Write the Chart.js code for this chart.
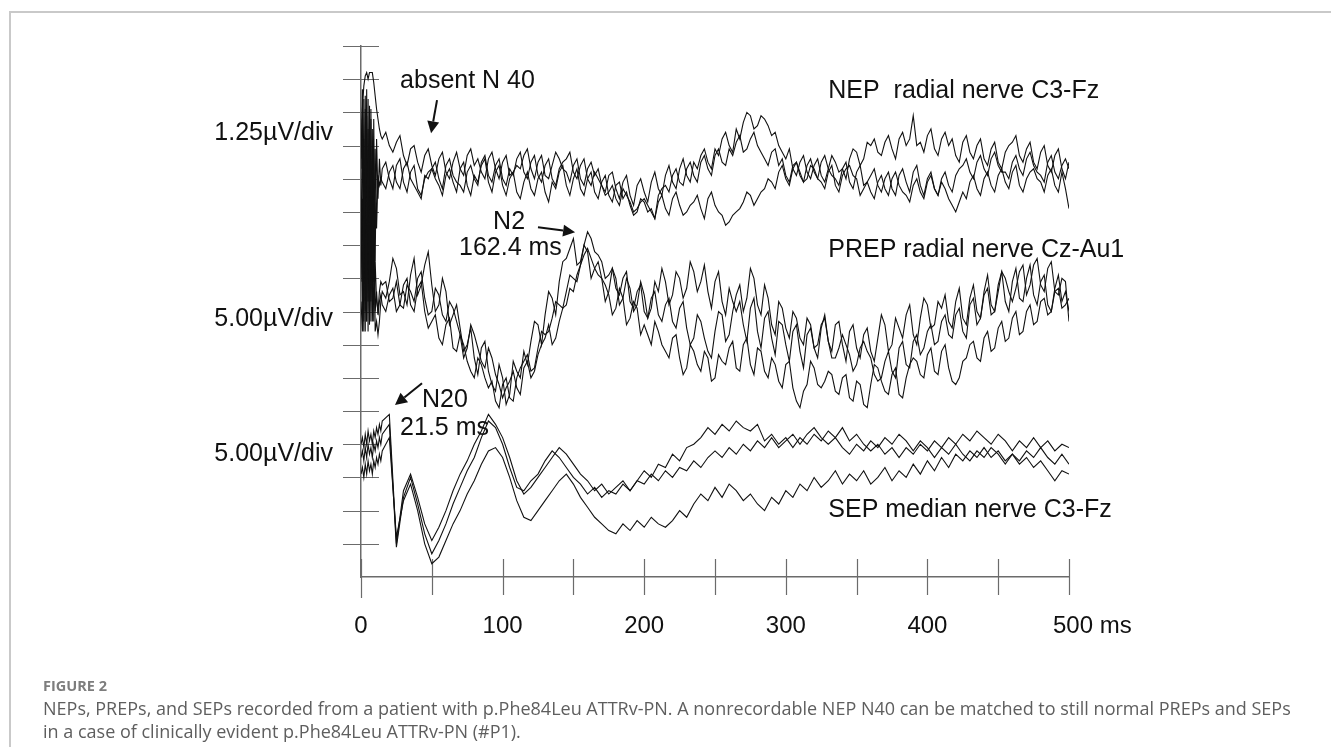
<!DOCTYPE html>
<html>
<head>
<meta charset="utf-8">
<script src="https://cdn.jsdelivr.net/npm/chart.js@4.4.1/dist/chart.umd.min.js"></script>
<style>
  html, body { margin: 0; padding: 0; background: #fff; overflow: hidden; }
  #wrap { position: relative; width: 1331px; height: 747px; }
  #frame { position: absolute; left: 9px; top: 11px; width: 1400px; height: 800px;
           border-left: 2px solid #c9c9c9; border-top: 2px solid #c9c9c9; }
  canvas { position: absolute; left: 0; top: 0; }
  .cap { position: absolute; left: 43px; font-family: "Open Sans", sans-serif; color: #5e5e5e; white-space: nowrap; }
  #figno { top: 676px; font-size: 14.5px; font-weight: 700; color: #7d7d7d; }
  #line1 { top: 696px; font-size: 18px; }
  #line2 { top: 719px; font-size: 18px; }
</style>
</head>
<body>
<div id="wrap">
  <div id="frame"></div>
  <canvas id="myChart" width="1331" height="747"></canvas>
  <div class="cap" id="figno">FIGURE 2</div>
  <div class="cap" id="line1">NEPs, PREPs, and SEPs recorded from a patient with p.Phe84Leu ATTRv-PN. A nonrecordable NEP N40 can be matched to still normal PREPs and SEPs</div>
  <div class="cap" id="line2">in a case of clinically evident p.Phe84Leu ATTRv-PN (#P1).</div>
</div>
<script>
// sample times (ms) for NEP and PREP: 1 ms over the stimulus artefact, then 2.5 ms
const timeFine = [0,1,2,3,4,5,6,7,8,9,10,11,12,13,14,15,
  17.5,20,22.5,25,27.5,30,32.5,35,37.5,40,42.5,45,47.5,50,52.5,55,57.5,60,62.5,65,
  67.5,70,72.5,75,77.5,80,82.5,85,87.5,90,92.5,95,97.5,100,102.5,105,107.5,110,112.5,115,
  117.5,120,122.5,125,127.5,130,132.5,135,137.5,140,142.5,145,147.5,150,152.5,155,157.5,160,162.5,165,
  167.5,170,172.5,175,177.5,180,182.5,185,187.5,190,192.5,195,197.5,200,202.5,205,207.5,210,212.5,215,
  217.5,220,222.5,225,227.5,230,232.5,235,237.5,240,242.5,245,247.5,250,252.5,255,257.5,260,262.5,265,
  267.5,270,272.5,275,277.5,280,282.5,285,287.5,290,292.5,295,297.5,300,302.5,305,307.5,310,312.5,315,
  317.5,320,322.5,325,327.5,330,332.5,335,337.5,340,342.5,345,347.5,350,352.5,355,357.5,360,362.5,365,
  367.5,370,372.5,375,377.5,380,382.5,385,387.5,390,392.5,395,397.5,400,402.5,405,407.5,410,412.5,415,
  417.5,420,422.5,425,427.5,430,432.5,435,437.5,440,442.5,445,447.5,450,452.5,455,457.5,460,462.5,465,
  467.5,470,472.5,475,477.5,480,482.5,485,487.5,490,492.5,495,497.5,500];

// sample times (ms) for SEP
const timeSep = [0,1,2,3,4,5,6,7,8,9,10,11,12,13,14,15,
  20,25,30,35,40,45,50,55,60,65,
  70,75,80,85,90,95,100,105,110,115,
  120,125,130,135,140,145,150,155,160,165,
  170,175,180,185,190,195,200,205,210,215,
  220,225,230,235,240,245,250,255,260,265,
  270,275,280,285,290,295,300,305,310,315,
  320,325,330,335,340,345,350,355,360,365,
  370,375,380,385,390,395,400,405,410,415,
  420,425,430,435,440,445,450,455,460,465,
  470,475,480,485,490,495,500];

// traces, in screen divisions (0 = time axis, 16 = top)
// NEP radial nerve C3-Fz, 1.25 uV/div
const nep1 = [12.6,14.1,14.8,15.1,15.2,15.0,15.2,15.2,15.2,14.9,14.5,14.1,13.8,13.5,13.3,13.2,
  13.4,13.0,12.8,13.1,13.3,12.7,12.4,12.9,13.0,12.5,12.2,12.7,12.9,12.4,12.1,12.6,12.8,12.2,12.0,12.5,
  12.8,12.3,12.1,12.7,12.9,12.4,12.6,12.2,12.0,12.6,12.8,12.3,12.0,12.5,12.7,12.1,12.2,12.4,12.3,12.7,
  12.9,12.3,12.0,12.5,12.7,12.1,12.0,12.4,12.8,12.6,12.3,12.2,11.9,12.4,12.6,12.0,11.8,12.3,12.5,12.1,
  12.3,11.8,11.6,12.1,12.2,11.7,11.4,11.9,12.1,11.5,11.2,11.8,12.0,11.6,11.3,11.9,12.2,11.7,11.5,12.1,
  12.4,11.9,11.7,12.3,12.6,12.1,11.9,12.5,12.3,12.7,12.9,12.5,12.3,12.9,12.7,13.2,13.4,13.0,12.8,13.5,
  13.2,13.7,14.0,13.9,13.5,13.6,13.9,13.8,13.6,13.3,13.4,13.0,12.8,12.6,12.9,12.3,12.1,12.5,12.7,12.2,
  12.0,12.4,12.6,12.1,11.9,12.3,12.7,12.5,12.2,12.3,12.0,12.6,12.9,12.8,12.4,12.6,13.1,13.0,13.2,12.8,
  12.7,13.1,13.3,12.9,12.6,13.2,13.4,13.0,13.2,13.9,13.0,13.1,12.8,13.3,13.5,12.9,12.7,13.2,13.4,13.0,
  13.2,12.7,12.5,13.1,13.3,12.8,12.6,13.0,13.2,12.6,12.4,12.9,13.1,12.5,12.3,12.8,13.0,13.1,13.3,12.7,
  12.5,12.9,13.1,12.5,12.3,12.8,13.0,12.4,12.2,12.7,12.9,12.3,12.0,12.5];
const nep2 = [12.3,14.7,8.3,14.5,7.7,14.4,8.0,14.1,8.6,13.8,9.5,13.2,11.4,12.6,11.8,12.3,
  12.5,12.0,11.7,12.4,12.6,11.9,11.6,12.2,12.4,11.7,11.5,12.0,12.2,12.3,12.0,11.8,11.5,12.1,12.3,11.9,
  11.6,12.3,12.5,11.8,11.5,12.1,11.9,12.4,12.6,11.9,11.6,12.2,12.4,11.8,11.5,12.0,12.2,11.6,11.4,11.9,
  12.2,11.7,11.5,12.0,12.2,11.6,11.3,11.9,11.7,12.2,12.4,11.8,11.5,12.0,12.3,11.7,11.5,12.0,12.2,11.6,
  11.4,11.9,12.1,11.5,11.3,11.8,11.9,11.4,11.6,11.2,10.9,11.0,11.4,11.3,11.0,11.1,10.8,11.5,11.7,11.8,
  11.6,12.1,12.3,11.9,11.8,12.3,12.5,12.1,11.9,12.5,12.7,12.3,12.1,12.7,12.9,12.5,12.4,12.9,12.7,13.1,
  13.3,12.8,12.9,13.2,13.4,13.0,12.8,12.6,12.4,12.8,12.9,12.4,12.6,12.1,11.9,12.4,12.5,12.2,11.9,12.0,
  12.4,12.3,12.0,11.9,11.7,12.2,12.4,11.8,11.6,12.1,12.3,12.4,12.1,12.0,11.5,11.7,11.9,12.1,12.3,11.8,
  11.6,12.0,12.2,11.7,11.5,12.1,12.3,11.9,11.6,12.2,12.4,11.8,11.5,12.0,12.2,11.7,11.5,11.9,11.7,11.4,
  11.2,11.0,11.3,11.6,11.4,11.9,12.1,11.7,11.5,12.0,12.2,11.8,11.6,12.1,12.3,11.9,11.7,12.2,12.4,11.8,
  11.6,12.0,12.2,12.3,12.0,11.9,11.6,12.1,12.3,11.8,11.6,12.2,11.7,11.1];
const nep3 = [11.4,8.0,14.4,7.4,14.7,8.3,14.2,7.7,13.5,8.9,12.9,10.5,12.1,11.8,12.0,11.9,
  11.7,12.2,12.4,11.9,11.7,12.3,12.5,12.0,11.8,11.6,11.4,12.1,12.0,12.3,12.5,12.0,11.7,12.4,12.6,12.1,
  11.9,11.8,11.6,12.2,12.4,12.0,11.8,12.5,12.7,12.1,11.9,12.4,12.6,12.0,11.8,12.3,12.1,12.6,12.8,12.2,
  12.0,12.5,12.7,12.1,11.9,12.4,12.6,12.0,11.8,12.3,12.5,12.6,12.8,12.2,12.0,12.4,12.6,12.0,11.8,12.2,
  12.0,11.8,11.5,11.6,11.8,11.4,11.2,11.7,11.5,11.3,11.0,11.1,11.3,11.4,11.2,11.0,10.8,11.3,11.5,11.1,
  10.9,11.4,11.6,11.2,10.9,11.0,11.2,11.3,11.5,11.1,10.8,11.4,11.6,11.2,11.0,10.9,10.6,10.7,10.9,11.0,
  11.1,11.3,11.6,11.5,11.2,11.4,11.6,11.7,12.0,11.9,11.7,12.2,12.4,12.0,11.8,12.3,12.5,12.1,11.9,12.4,
  12.6,12.2,12.0,12.5,12.7,12.3,12.1,12.0,11.8,12.3,12.5,11.9,11.7,12.2,12.4,11.8,11.9,11.6,11.4,11.9,
  12.1,11.7,11.5,12.0,12.2,11.8,11.6,11.5,11.3,11.8,12.0,11.6,11.4,11.9,12.1,11.7,11.5,12.0,12.2,11.8,
  11.6,12.1,12.3,12.4,12.6,12.2,12.0,12.5,12.7,12.3,12.1,12.6,12.8,12.4,12.2,12.2,12.0,12.5,12.7,12.3,
  12.1,12.6,12.8,12.4,12.2,12.1,11.9,12.5,12.7,12.2,12.0,12.4,12.6,12.3];

// PREP radial nerve Cz-Au1, 5.00 uV/div
const prep1 = [9.8,13.8,7.7,14.1,8.3,13.5,7.6,13.8,8.0,12.9,7.4,7.7,7.3,7.7,8.3,8.6,
  8.4,8.9,9.6,9.3,8.5,8.6,8.2,9.1,9.6,8.5,8.8,9.4,9.8,8.8,8.0,8.2,9.0,8.6,7.6,7.9,
  8.2,7.5,6.8,7.0,7.5,6.6,6.1,6.9,7.1,6.2,5.8,5.6,6.4,6.0,5.2,5.5,6.5,6.2,6.0,6.8,
  6.4,7.1,7.7,7.6,7.0,7.9,8.6,8.4,7.9,8.9,9.5,9.6,9.9,10.2,9.4,9.5,10.0,9.8,9.0,9.3,
  9.5,9.0,8.3,8.6,9.3,9.0,8.2,8.4,9.0,8.7,8.0,8.2,8.9,8.5,7.8,8.1,8.9,8.6,9.3,8.9,
  8.2,8.5,9.2,9.0,8.4,8.7,9.5,9.2,8.6,8.9,9.4,8.6,8.1,8.9,9.2,8.3,7.9,8.7,8.3,8.0,
  8.3,7.6,7.1,8.1,8.4,7.4,6.9,7.8,8.0,7.2,6.7,7.7,7.6,7.0,6.5,7.4,7.6,6.8,6.3,7.3,
  7.5,6.9,6.6,7.5,7.9,7.1,6.8,7.6,7.7,7.0,6.5,7.4,7.6,6.9,6.6,7.3,7.5,6.8,6.5,7.2,
  7.9,7.6,6.8,7.0,7.8,7.5,7.2,7.9,8.2,7.3,7.0,7.8,8.4,8.2,7.5,7.6,8.3,8.1,8.5,7.7,
  7.5,8.3,8.7,7.8,7.6,8.4,8.8,8.0,7.8,8.6,9.1,8.2,8.0,8.8,9.2,8.3,8.0,8.9,9.3,8.4,
  8.3,9.0,9.4,8.5,8.2,8.9,9.1,8.2,8.0,8.7,9.1,8.3,8.6,8.0];
const prep2 = [8.3,7.4,13.2,8.0,13.9,7.4,13.2,8.3,12.3,7.7,9.5,8.3,8.0,8.6,8.9,8.8,
  8.9,8.3,8.4,8.9,8.2,8.1,8.8,8.6,8.3,9.0,9.2,8.4,7.9,8.0,8.7,8.5,7.9,7.7,8.3,8.1,
  7.7,7.3,6.6,6.9,7.6,7.3,6.9,6.5,6.3,6.9,6.6,6.1,5.8,5.4,5.7,5.9,6.2,5.7,5.5,6.3,
  6.5,6.0,6.2,6.7,7.0,7.2,7.6,7.0,7.2,7.7,8.1,8.2,8.7,8.6,9.1,9.4,10.0,10.4,10.2,9.8,
  9.7,9.5,9.0,9.1,9.3,8.7,8.5,9.0,9.2,8.3,8.1,8.6,8.8,8.0,7.8,8.4,8.6,7.9,7.7,8.2,
  8.4,7.7,7.5,8.1,8.3,7.5,7.0,7.2,7.9,7.7,7.2,6.8,6.6,7.4,8.0,7.9,7.1,7.3,8.0,8.5,
  8.8,8.0,8.4,9.3,9.0,8.2,7.9,8.8,8.4,7.6,7.3,8.3,8.1,7.5,7.2,8.0,7.8,7.2,7.0,7.8,
  7.6,6.9,7.0,7.6,7.8,7.1,6.6,6.6,6.9,7.3,7.0,6.7,6.2,6.4,6.9,7.1,6.8,6.6,6.1,5.9,
  6.0,6.5,6.8,6.2,6.0,6.9,7.1,6.4,6.3,7.1,7.3,6.7,6.9,7.4,7.6,7.0,7.1,7.7,7.9,7.3,
  7.2,7.9,8.1,7.4,7.2,8.2,8.4,7.6,7.8,8.5,8.7,7.9,8.0,8.6,9.2,9.0,8.6,8.3,8.7,9.2,
  9.4,8.5,8.8,9.4,9.6,8.8,8.6,9.3,9.5,8.6,8.5,9.0,8.9,7.7];
const prep3 = [8.9,11.4,7.4,12.0,7.7,12.6,8.0,11.7,7.7,10.2,8.0,8.6,7.9,8.3,8.5,8.2,
  8.0,8.5,8.7,8.0,8.2,8.8,9.0,8.2,8.0,8.7,8.9,8.0,7.5,7.7,7.9,7.2,7.0,7.6,7.8,6.9,
  6.8,7.3,7.0,6.5,6.2,6.0,6.6,6.4,6.0,5.7,5.9,5.3,5.1,5.8,6.0,5.4,5.3,6.0,6.3,6.5,
  6.7,6.2,6.3,6.9,7.4,7.3,7.4,7.8,8.3,8.2,8.1,8.6,9.1,9.0,8.9,9.4,9.7,9.9,9.6,9.3,
  9.1,9.0,8.8,8.5,7.9,8.1,8.7,8.4,7.6,7.8,8.3,8.1,7.3,7.6,7.3,7.0,7.7,7.4,7.0,6.8,
  6.6,7.2,7.3,6.6,6.1,6.3,7.0,6.8,6.4,6.2,6.8,6.6,5.9,6.0,6.7,6.5,6.4,6.9,7.1,6.3,
  6.2,7.0,7.2,6.4,6.1,6.9,6.8,6.2,6.0,6.6,6.4,5.9,5.7,6.4,6.5,5.7,5.3,5.1,5.6,5.8,
  6.5,6.3,5.8,5.7,5.9,6.2,6.1,5.6,5.5,6.0,6.1,5.4,5.3,5.9,5.8,5.2,5.1,5.8,6.4,6.3,
  5.9,5.6,5.5,6.1,6.3,5.5,5.4,6.0,6.4,6.6,6.5,6.1,6.0,6.7,6.9,6.2,6.1,6.8,7.0,6.3,
  5.9,5.8,6.0,6.5,6.6,7.0,7.1,6.6,6.5,7.2,7.4,6.8,6.9,7.5,7.7,7.1,7.2,7.8,8.0,7.3,
  7.4,8.0,8.2,7.6,7.7,8.3,8.4,7.9,8.0,8.6,8.7,8.1,8.2,8.4];

// SEP median nerve C3-Fz, 5.00 uV/div
const sep1 = [4.0,4.2,3.9,4.3,4.0,4.4,4.1,4.3,4.0,4.4,4.2,4.5,4.3,4.6,4.4,4.7,
  4.9,1.0,2.6,3.1,2.4,1.6,1.1,1.5,2.0,2.6,
  3.1,3.5,4.0,4.4,4.9,4.6,4.2,3.6,2.9,2.5,
  2.7,3.0,3.3,3.6,3.9,3.7,3.4,3.1,2.9,2.6,
  2.8,2.5,2.7,2.9,2.6,2.9,3.2,3.0,3.4,3.3,
  3.7,3.5,3.9,4.0,4.2,4.5,4.3,4.6,4.4,4.7,
  4.5,4.4,4.6,4.1,4.3,4.0,4.2,3.9,4.2,4.0,
  4.3,4.1,4.4,4.2,4.5,4.1,4.3,4.0,3.8,4.0,
  3.7,3.9,3.6,3.9,3.7,4.0,3.8,4.1,3.9,4.2,
  4.0,4.3,4.1,4.4,4.2,4.0,4.3,4.1,3.8,4.1,
  3.9,4.2,3.9,4.1,3.8,4.0,3.9];
const sep2 = [3.6,3.8,3.5,3.9,3.6,4.0,3.7,3.9,3.6,4.0,3.8,4.1,3.9,4.2,4.0,4.3,
  4.6,0.9,2.4,3.0,2.2,1.3,0.7,1.1,1.6,2.2,
  2.7,3.2,3.6,4.2,4.7,4.5,4.0,3.3,2.7,2.6,
  2.9,3.1,3.5,3.8,3.6,3.3,3.0,2.8,2.5,2.7,
  2.4,2.6,2.5,2.8,2.6,2.9,2.8,3.1,2.9,3.2,
  3.0,3.3,3.2,3.5,3.3,3.6,3.8,3.6,3.9,3.7,
  4.0,3.8,4.1,3.9,4.2,3.9,4.1,4.3,4.0,4.3,
  4.5,4.2,4.0,4.2,3.9,3.7,4.0,3.8,4.1,3.9,
  4.2,4.0,4.3,4.1,3.8,4.1,3.9,3.6,3.9,3.7,
  4.0,3.7,3.5,3.8,3.6,3.9,3.7,3.4,3.7,3.5,
  3.8,3.6,3.9,3.6,3.4,3.7,3.4];
const sep3 = [3.1,3.3,3.0,3.4,3.1,3.5,3.2,3.4,3.1,3.5,3.3,3.6,3.4,3.7,3.5,3.8,
  4.2,1.2,2.3,2.8,2.0,1.0,0.4,0.6,1.1,1.6,
  2.0,2.5,2.9,3.4,3.8,3.9,3.6,3.0,2.3,1.8,
  1.7,2.0,2.3,2.6,2.9,3.1,2.8,2.4,2.1,1.8,
  1.6,1.4,1.3,1.6,1.4,1.7,1.5,1.8,1.6,1.5,
  1.7,2.0,1.8,2.2,2.5,2.3,2.7,2.4,2.8,2.6,
  2.3,2.5,2.2,2.0,2.4,2.2,2.6,2.4,2.8,2.6,
  3.0,2.7,2.9,3.2,2.8,3.1,2.9,3.2,2.8,3.0,
  3.3,2.9,3.2,3.0,3.4,3.1,3.5,3.2,3.6,3.3,
  3.7,3.5,3.8,3.6,3.9,3.6,3.8,3.5,3.7,3.4,
  3.6,3.3,3.5,3.2,2.9,3.2,3.1];

const traces = [
  [timeFine, nep1], [timeFine, nep2], [timeFine, nep3],
  [timeFine, prep1], [timeFine, prep2], [timeFine, prep3],
  [timeSep, sep1], [timeSep, sep2], [timeSep, sep3]
];

// x tick labels (ms)
const xTickLabels = {0: '0', 100: '100', 200: '200', 300: '300', 400: '400', 500: '       500 ms'};

// gain labels at the left, placed at a height in divisions
const gainLabels = ['1.25\u00B5V/div', '5.00\u00B5V/div', '5.00\u00B5V/div'];
const gainAt = [13.37, 7.77, 3.7];

// annotations: text, time (ms), height (div)
const noteText = ['absent N 40', 'NEP  radial nerve C3-Fz', 'PREP radial nerve Cz-Au1',
  'SEP median nerve C3-Fz', 'N2', '162.4 ms', 'N20', '21.5 ms'];
const noteT = [27.6, 330, 330, 330, 93.3, 69.2, 43.1, 27.6];
const noteY = [14.94, 14.64, 9.85, 2.02, 10.69, 9.91, 5.33, 4.49];

// arrows: from (t, div) to (t, div), head at the end
const arrowFrom = [[53.7, 14.37], [125, 10.54], [43.1, 5.84]];
const arrowTo = [[49.5, 13.37], [151.2, 10.39], [24.0, 5.18]];

const font = '"Liberation Sans", Arial, sans-serif';
const axisColor = '#6b6b6b';

traces.forEach(([t, v], i) => {
  if (t.length !== v.length) console.error('length mismatch in trace', i, v.length, t.length);
});

const datasets = traces.map(([t, v]) => ({
  data: t.map((ms, i) => ({x: ms, y: v[i]})),
  borderColor: '#111',
  borderWidth: 1.1,
  pointRadius: 0,
  tension: 0,
  fill: false
}));

const axisMarks = {
  id: 'axisMarks',
  beforeDatasetsDraw(chart) {
    const {ctx, chartArea: a, scales: {x, y}} = chart;
    ctx.save();
    ctx.strokeStyle = axisColor;
    ctx.lineWidth = 1.2;
    ctx.beginPath();
    y.ticks.forEach(tk => {
      if (tk.value <= 0) return;
      const py = Math.round(y.getPixelForValue(tk.value)) + 0.5;
      ctx.moveTo(a.left - 18, py);
      ctx.lineTo(a.left + 18, py);
    });
    x.ticks.forEach(tk => {
      const px = Math.round(x.getPixelForValue(tk.value)) + 0.5;
      ctx.moveTo(px, a.bottom - 18);
      ctx.lineTo(px, a.bottom + (tk.value === 0 ? 21 : 18));
    });
    ctx.stroke();
    ctx.restore();
  }
};

const notes = {
  id: 'notes',
  afterDraw(chart) {
    const {ctx, chartArea: a, scales: {x, y}} = chart;
    ctx.save();
    ctx.fillStyle = '#111';
    ctx.font = '25px ' + font;
    ctx.textBaseline = 'middle';
    ctx.textAlign = 'right';
    gainLabels.forEach((s, i) => ctx.fillText(s, a.left - 28, y.getPixelForValue(gainAt[i])));
    ctx.textAlign = 'left';
    noteText.forEach((s, i) => ctx.fillText(s, x.getPixelForValue(noteT[i]), y.getPixelForValue(noteY[i])));

    ctx.strokeStyle = '#111';
    ctx.lineWidth = 2;
    arrowFrom.forEach((f, i) => {
      const x0 = x.getPixelForValue(f[0]), y0 = y.getPixelForValue(f[1]);
      const x1 = x.getPixelForValue(arrowTo[i][0]), y1 = y.getPixelForValue(arrowTo[i][1]);
      const ang = Math.atan2(y1 - y0, x1 - x0);
      const hl = 12, hw = 6;
      const bx = x1 - hl * Math.cos(ang), by = y1 - hl * Math.sin(ang);
      ctx.beginPath();
      ctx.moveTo(x0, y0);
      ctx.lineTo(bx, by);
      ctx.stroke();
      ctx.beginPath();
      ctx.moveTo(x1, y1);
      ctx.lineTo(bx + hw * Math.sin(ang), by - hw * Math.cos(ang));
      ctx.lineTo(bx - hw * Math.sin(ang), by + hw * Math.cos(ang));
      ctx.closePath();
      ctx.fill();
    });
    ctx.restore();
  }
};

const config = {
  type: 'line',
  data: {datasets: datasets},
  options: {
    responsive: false,
    animation: false,
    devicePixelRatio: 1,
    layout: {padding: {top: 46, right: 262, left: 0, bottom: 0}},
    plugins: {legend: {display: false}, tooltip: {enabled: false}},
    scales: {
      x: {
        type: 'linear',
        min: 0,
        max: 500,
        afterFit: s => { s.height = 170; },
        grid: {drawOnChartArea: false, drawTicks: false},
        border: {display: true, color: axisColor, width: 1.5},
        ticks: {
          stepSize: 50,
          autoSkip: false,
          maxRotation: 0,
          padding: 35,
          color: '#111',
          font: {family: font, size: 24},
          callback: v => xTickLabels[v] || ''
        }
      },
      y: {
        type: 'linear',
        min: 0,
        max: 16,
        afterFit: s => { s.width = 361; },
        grid: {drawOnChartArea: false, drawTicks: false},
        border: {display: true, color: axisColor, width: 1.5},
        ticks: {stepSize: 1, display: false}
      }
    }
  },
  plugins: [axisMarks, notes]
};

const myChart = new Chart(document.getElementById('myChart'), config);
</script>
</body>
</html>
